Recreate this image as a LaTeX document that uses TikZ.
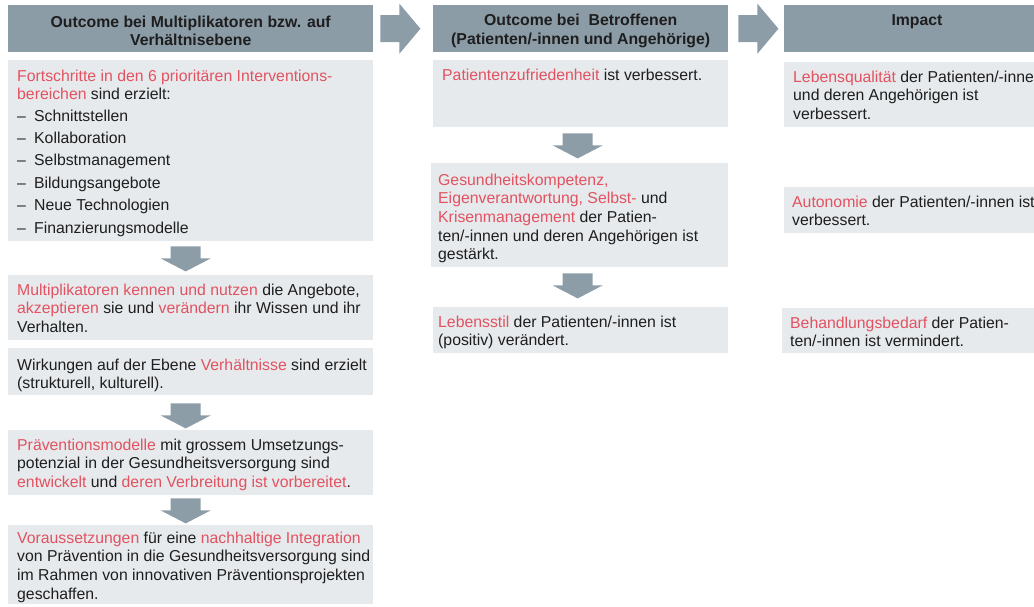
\documentclass[tikz,border=0pt]{standalone}
\usepackage{fontspec}
\setmainfont{Liberation Sans}
\usetikzlibrary{calc}
\definecolor{hdr}{RGB}{139,156,167}
\definecolor{boxc}{RGB}{231,234,237}
\definecolor{arr}{RGB}{140,157,168}
\definecolor{hl}{RGB}{226,82,96}
\definecolor{txt}{RGB}{30,30,30}
\newcommand\R[1]{\textcolor{hl}{#1}}
\newcommand\dashitem[1]{\makebox[17pt][l]{–}#1}
\newcommand\fs{\fontsize{15.8pt}{18.6pt}\selectfont}
\begin{document}
\begin{tikzpicture}[x=1pt,y=-1pt,
  hdrbox/.style={fill=hdr, draw=none, inner sep=0pt, anchor=north west},
  cbox/.style={fill=boxc, draw=none, inner sep=0pt, anchor=north west},
  body/.style={anchor=north west, inner sep=0pt, align=left, font=\fs, text=txt},
  htext/.style={inner sep=0pt, align=center, font=\fs\bfseries, text=txt},
  darr/.pic={\fill[arr] (-15,0) -- (15,0) -- (15,12) -- (25,12) -- (0,25) -- (-25,12) -- (-15,12) -- cycle;},
  rarr/.pic={\fill[arr] (0,-13.5) -- (19,-13.5) -- (19,-25) -- (40,0) -- (19,25) -- (19,13.5) -- (0,13.5) -- cycle;}]
\useasboundingbox (0,0) rectangle (1034,606);
\fill[white] (0,0) rectangle (1034,606);

% headers
\node[hdrbox, minimum width=365pt, minimum height=47pt] (H1) at (8,5) {};
\node[hdrbox, minimum width=295pt, minimum height=47pt] (H2) at (433,5) {};
\node[hdrbox, minimum width=270pt, minimum height=47pt] (H3) at (784,5) {};
\node[htext] (H1t) at ($(H1.center)+(0,2)$) {Outcome bei Multiplikatoren bzw. auf\\Verhältnisebene};
\node[htext] (H2t) at ($(H2.center)+(0,2)$) {Outcome bei\ \ Betroffenen\\(Patienten/-innen und Angehörige)};
\node[htext] (H3t) at (917,22) {Impact};

\pic at ($(H1.east)+(7,0)$) {rarr};
\pic at ($(H2.east)+(10,0)$) {rarr};

% left column
\node[cbox, minimum width=365pt, minimum height=181pt] (L1) at (8,60) {};
\node[cbox, minimum width=365pt, minimum height=65pt] (L2) at (8,275) {};
\node[cbox, minimum width=365pt, minimum height=47pt] (L3) at (8,348) {};
\node[cbox, minimum width=365pt, minimum height=65pt] (L4) at (8,430) {};
\node[cbox, minimum width=365pt, minimum height=79pt] (L5) at (8,525) {};

\pic at ($(L1.south)+(-5,5)$) {darr};
\pic at ($(L3.south)+(-5,8)$) {darr};
\pic at ($(L4.south)+(-5,3)$) {darr};

\node[body] (L1t) at (17,68) {\strut\R{Fortschritte in den 6 prioritären Interventions-}\\
  \R{bereichen} sind erzielt:\\[2.6pt]
  \dashitem{Schnittstellen}\\[3.8pt]
  \dashitem{Kollaboration}\\[3.8pt]
  \dashitem{Selbstmanagement}\\[3.8pt]
  \dashitem{Bildungsangebote}\\[3.8pt]
  \dashitem{Neue Technologien}\\[3.8pt]
  \dashitem{Finanzierungsmodelle}};
\node[body] (L2t) at (17,282) {\strut\R{Multiplikatoren kennen und nutzen} die Angebote,\\
  \R{akzeptieren} sie und \R{verändern} ihr Wissen und ihr\\
  Verhalten.};
\node[body] (L3t) at (17,357) {\strut Wirkungen auf der Ebene \R{Verhältnisse} sind erzielt\\
  (strukturell, kulturell).};
\node[body] (L4t) at (17,437) {\strut\R{Präventionsmodelle} mit grossem Umsetzungs-\\
  potenzial in der Gesundheitsversorgung sind\\
  \R{entwickelt} und \R{deren Verbreitung ist vorbereitet}.};
\node[body] (L5t) at (17,530) {\strut\R{Voraussetzungen} für eine \R{nachhaltige Integration}\\
  von Prävention in die Gesundheitsversorgung sind\\
  im Rahmen von innovativen Präventionsprojekten\\
  geschaffen.};

% middle column
\node[cbox, minimum width=295pt, minimum height=67pt] (M1) at (433,60) {};
\node[cbox, minimum width=297pt, minimum height=104pt] (M2) at (431,163) {};
\node[cbox, minimum width=295pt, minimum height=46pt] (M3) at (433,307) {};

\pic at ($(M1.south)+(-3,6)$) {darr};
\pic at ($(M2.south)+(-2,6)$) {darr};

\node[body] (M1t) at (442,67) {\strut\R{Patientenzufriedenheit} ist verbessert.};
\node[body] (M2t) at (438,172) {\strut\R{Gesundheitskompetenz,}\\
  \R{Eigenverantwortung, Selbst-} und\\
  \R{Krisenmanagement} der Patien-\\
  ten/-innen und deren Angehörigen ist\\
  gestärkt.};
\node[body] (M3t) at (438,314) {\strut\R{Lebensstil} der Patienten/-innen ist\\
  (positiv) verändert.};

% right column
\node[cbox, minimum width=270pt, minimum height=65pt] (R1) at (784,62) {};
\node[cbox, minimum width=270pt, minimum height=46pt] (R2) at (784,187) {};
\node[cbox, minimum width=272pt, minimum height=45pt] (R3) at (782,308) {};

\node[body] (R1t) at (793,69) {\strut\R{Lebensqualität} der Patienten/-innen\\
  und deren Angehörigen ist\\
  verbessert.};
\node[body] (R2t) at (792,194) {\strut\R{Autonomie} der Patienten/-innen ist\\
  verbessert.};
\node[body] (R3t) at (790,315) {\strut\R{Behandlungsbedarf} der Patien-\\
  ten/-innen ist vermindert.};
\end{tikzpicture}
\end{document}
